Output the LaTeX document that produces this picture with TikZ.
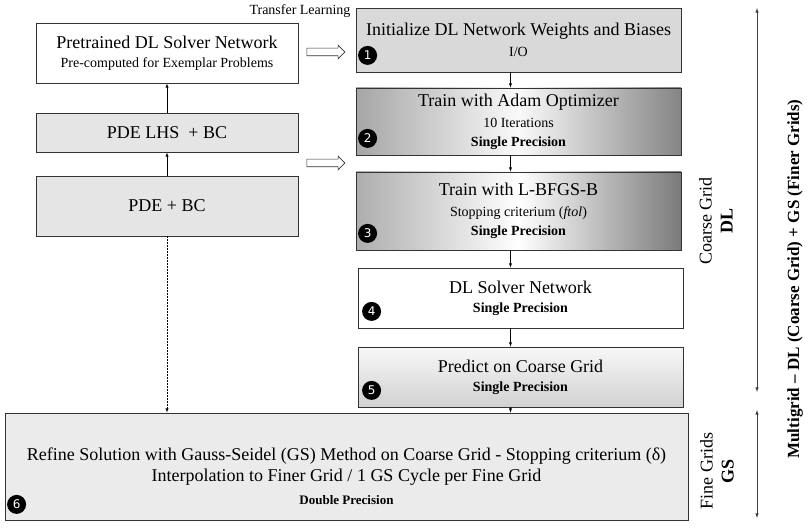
\documentclass[tikz,border=0pt]{standalone}
\usepackage{fontspec}
\setmainfont{Liberation Serif}
\newfontfamily\numfont{DejaVu Sans}
\usepackage{tikz}
\usetikzlibrary{shapes.arrows, arrows, positioning}
\usetikzlibrary{calc}

\newcommand{\ttl}{\fontsize{18}{21}\selectfont}
\newcommand{\subtxt}{\fontsize{14}{17}\selectfont}
\newcommand{\sprec}{\fontsize{14}{17}\selectfont\bfseries Single Precision}

\tikzset{
	box/.style={draw=black!80, line width=0.8pt, align=center, inner sep=0pt, font=\fontsize{14}{19}\selectfont},
	leftbox/.style={box, minimum width=262pt},
	rightbox/.style={box, minimum width=325pt},
	numdot/.style={circle, fill=black, text=white, inner sep=0pt, minimum size=19pt, font=\numfont\fontsize{12}{12}\selectfont},
	hollow/.style={single arrow, draw=black!80, line width=0.6pt, inner sep=3.5pt, single arrow head extend=3pt, minimum height=38pt},
	side/.style={rotate=90, align=center, font=\fontsize{18}{21}\selectfont},
	link/.style={-latex, line width=0.5pt},
	span/.style={latex-latex, line width=0.6pt, black!75}
}

\begin{document}
\begin{tikzpicture}
		\useasboundingbox (0pt,0pt) rectangle (809pt,-529pt);
		
		% left column
		\draw (167pt,-53pt) node[leftbox, minimum height=60pt, fill=white] (pre) {{\ttl Pretrained DL Solver Network}\\{\subtxt Pre-computed for Exemplar Problems}}
		(167pt,-132.5pt) node[leftbox, minimum height=39pt, fill=black!10] (lhs) {\ttl PDE LHS\ \ + BC}
		(167pt,-206pt) node[leftbox, minimum height=60pt, fill=black!10] (pde) {\ttl PDE + BC};
		
		% right column
		\draw (518.5pt,-40pt) node[rightbox, minimum height=64pt, fill=black!15] (b1) {{\ttl Initialize DL Network Weights and Biases}\\[2pt]{\subtxt I/O}}
		(518.5pt,-121.5pt) node[rightbox, minimum height=67pt, left color=black!35, right color=black!48, middle color=black!2] (b2) {{\ttl Train with Adam Optimizer}\\[2pt]{\subtxt 10 Iterations}\\{\sprec}}
		(518.5pt,-211pt) node[rightbox, minimum height=78pt, left color=black!32, right color=black!52, middle color=white] (b3) {{\ttl Train with L-BFGS-B}\\[2pt]{\subtxt Stopping criterium (\textit{ftol})}\\{\sprec}}
		(520.5pt,-298pt) node[rightbox, minimum height=60pt, fill=white] (b4) {{\ttl DL Solver Network}\\{\sprec}}
		(520.5pt,-377pt) node[rightbox, minimum height=60pt, top color=black!3, bottom color=black!18] (b5) {{\ttl Predict on Coarse Grid}\\{\sprec}}
		(346.5pt,-466.5pt) node[box, minimum width=683pt, minimum height=107pt, fill=black!8] (b6) {};
		\node[align=center, font=\ttl] (b6txt) at ([yshift=-10pt]b6.center) {Refine Solution with Gauss-Seidel (GS) Method on Coarse Grid - Stopping criterium (δ)\\Interpolation to Finer Grid / 1 GS Cycle per Fine Grid\\[2pt]{\fontsize{13}{15}\selectfont\bfseries Double Precision}};
		
		% step numbers
		\node[numdot] (n1) at ([shift={(12pt,17pt)}]b1.south west) {1};
		\node[numdot] (n2) at ([shift={(12pt,17pt)}]b2.south west) {2};
		\node[numdot] (n3) at ([shift={(12pt,17pt)}]b3.south west) {3};
		\node[numdot] (n4) at ([shift={(14pt,17pt)}]b4.south west) {4};
		\node[numdot] (n5) at ([shift={(14pt,17pt)}]b5.south west) {5};
		\node[numdot] (n6) at ([shift={(12pt,16pt)}]b6.south west) {6};
		
		% transfer learning
		\node[font=\fontsize{14}{16}\selectfont] (tltext) at (300pt,-11pt) {Transfer Learning};
		\node[hollow] (tl1) at (324pt,-52pt) {};
		\node[hollow] (tl2) at (324pt,-163pt) {};
		
		\draw[link] (pde) -- (lhs);
		\draw[link] (lhs) -- (pre);
		\draw[link, dash pattern=on 1.5pt off 1.5pt] (pde.south) -- (pde.south |- b6.north);
		\draw[link] ([xshift=-8pt]b1.south) -- ([xshift=-8pt]b2.north);
		\draw[link] ([xshift=-8pt]b2.south) -- ([xshift=-8pt]b3.north);
		\draw[link] ([xshift=-8pt]b3.south) -- ([xshift=-10pt]b4.north);
		\draw[link] ([xshift=-10pt]b4.south) -- ([xshift=-10pt]b5.north);
		\draw[link] ([xshift=-10pt]b5.south) -- ([xshift=-10pt]b5.south |- b6.north);
		
		% grid levels
		\coordinate (dltop) at (757pt,-8pt);
		\coordinate (dlbot) at (757pt,-392pt);
		\coordinate (gstop) at (757pt,-410pt);
		\coordinate (gsbot) at (757pt,-518pt);
		\draw[span] (dltop) -- (dlbot);
		\draw[span] (gstop) -- (gsbot);
		\node[side] (dllab) at (716pt,-221pt) {Coarse Grid\\\textbf{DL}};
		\node[side] (gslab) at (717pt,-471pt) {Fine Grids\\\textbf{GS}};
		\node[rotate=90, font=\fontsize{17}{19}\selectfont\bfseries] (mglab) at (795pt,-279pt) {Multigrid -- DL (Coarse Grid) + GS (Finer Grids)};
	\end{tikzpicture}
\end{document}
